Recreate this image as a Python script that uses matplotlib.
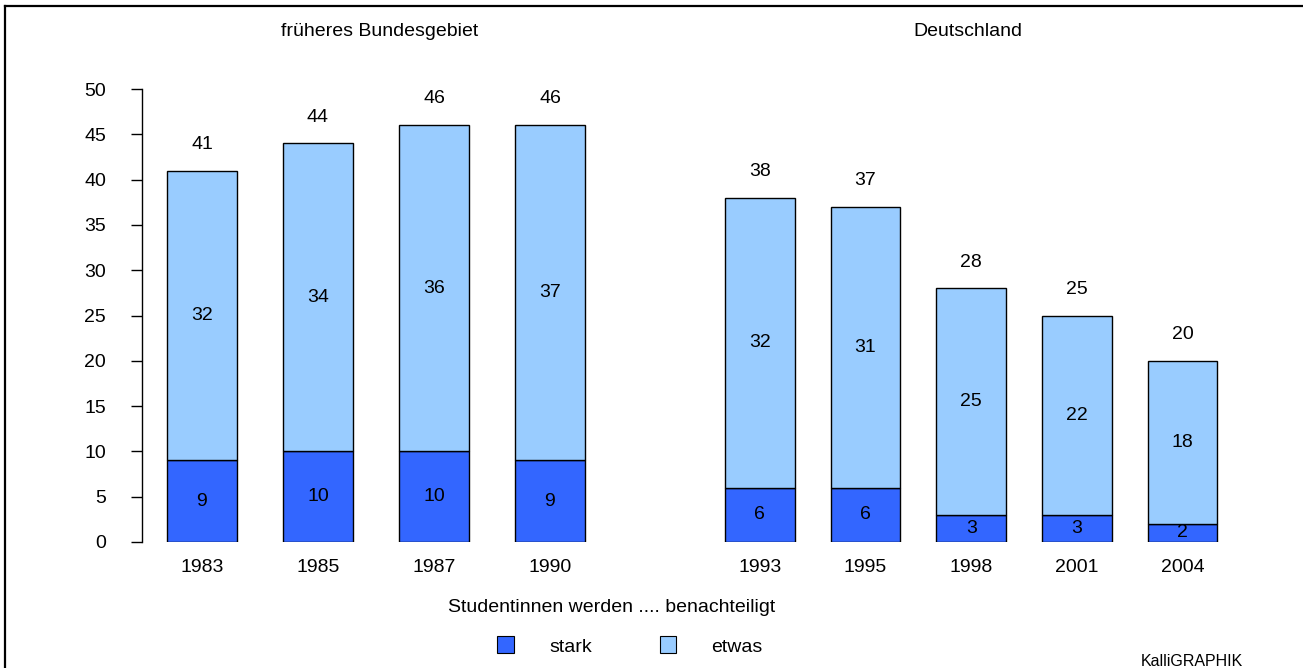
import matplotlib.pyplot as plt
from matplotlib.patches import Patch
from matplotlib.lines import Line2D

plt.rcParams['font.family'] = ['Liberation Sans', 'DejaVu Sans']

# data
years_west = ['1983', '1985', '1987', '1990']
stark_west = [9, 10, 10, 9]
etwas_west = [32, 34, 36, 37]
total_west = [41, 44, 46, 46]

years_de = ['1993', '1995', '1998', '2001', '2004']
stark_de = [6, 6, 3, 3, 2]
etwas_de = [32, 31, 25, 22, 18]
total_de = [38, 37, 28, 25, 20]

c_stark = '#3366FF'
c_etwas = '#99CCFF'
fs = 14

W, H = 1303, 668
fig = plt.figure(figsize=(W / 100, H / 100), dpi=100)

def fx(px):
    return px / W

def fy(py):
    return 1 - py / H

y0, y1 = 542, 89
ax1 = fig.add_axes([fx(142), fy(y0), fx(608 - 142), fy(y1) - fy(y0)])
ax2 = fig.add_axes([fx(696.5), fy(y0), fx(1246 - 696.5), fy(y1) - fy(y0)])


def draw(ax, years, stark, etwas, total, width):
    xs = list(range(len(years)))
    ax.bar(xs, stark, width=width, color=c_stark, edgecolor='black', linewidth=1)
    ax.bar(xs, etwas, width=width, bottom=stark, color=c_etwas, edgecolor='black', linewidth=1)
    for x, s, e, t in zip(xs, stark, etwas, total):
        ax.text(x, s / 2, str(s), ha='center', va='center', fontsize=fs)
        ax.text(x, s + e / 2, str(e), ha='center', va='center', fontsize=fs)
        ax.text(x, t + 2.9, str(t), ha='center', va='center', fontsize=fs)
    ax.set_xticks(xs)
    ax.set_xticklabels(years, fontsize=fs)
    ax.tick_params(axis='x', length=0, pad=12)
    ax.set_ylim(0, 50)
    for s in ['top', 'right', 'bottom']:
        ax.spines[s].set_visible(False)


draw(ax1, years_west, stark_west, etwas_west, total_west, 0.6)
ax1.set_xlim(-0.517, 3.5)
ax1.set_yticks(range(0, 51, 5))
ax1.tick_params(axis='y', length=8, width=1, pad=18, labelsize=fs)
ax1.spines['left'].set_linewidth(1)

draw(ax2, years_de, stark_de, etwas_de, total_de, 0.66)
ax2.set_xlim(-0.6, 4.6)
ax2.spines['left'].set_visible(False)
ax2.set_yticks([])

fig.text(fx(380), fy(31), 'früheres Bundesgebiet', ha='center', va='center', fontsize=fs)
fig.text(fx(968), fy(31), 'Deutschland', ha='center', va='center', fontsize=fs)
fig.text(fx(612), fy(608), 'Studentinnen werden .... benachteiligt', ha='center', va='center', fontsize=fs)
fig.text(fx(1192), fy(661), 'KalliGRAPHIK', ha='center', va='center', fontsize=11.5)

handles = [Patch(facecolor=c_stark, edgecolor='black', linewidth=0.8, label='stark'),
           Patch(facecolor=c_etwas, edgecolor='black', linewidth=0.8, label='etwas')]
fig.legend(handles=handles, loc='center', bbox_to_anchor=(fx(630), fy(646)), ncol=2,
           frameon=False, fontsize=fs, handlelength=0.85, handleheight=0.95,
           handletextpad=1.8, columnspacing=3.5)

# frame
fig.add_artist(Line2D([fx(5), fx(5)], [0, fy(6)], color='black', linewidth=1.6))
fig.add_artist(Line2D([fx(5), 1], [fy(6), fy(6)], color='black', linewidth=1.6))

fig.savefig('out.png', dpi=100)
